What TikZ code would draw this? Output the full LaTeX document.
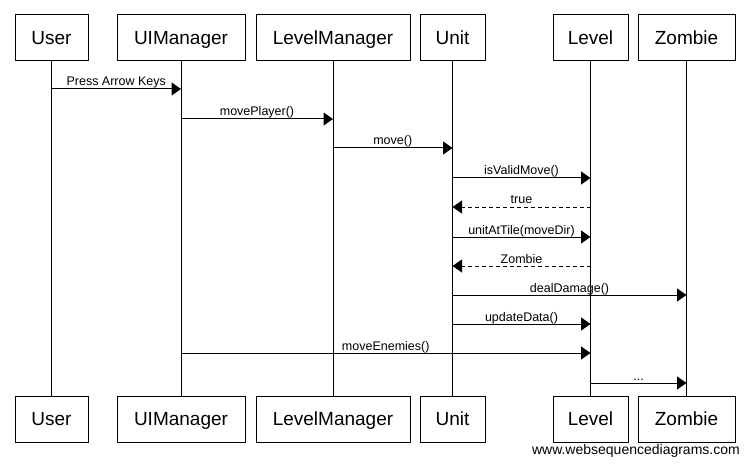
\documentclass[tikz,border=0pt]{standalone}
\usepackage{fontspec}
\setmainfont{Liberation Sans}
\usetikzlibrary{arrows.meta}
\begin{document}
\begin{tikzpicture}[x=1pt,y=-1pt,
  actor/.style={draw=black,line width=1pt,minimum height=46pt,inner sep=0pt,
    font=\fontsize{19}{19}\selectfont,text height=13.6pt,text depth=0pt},
  life/.style={line width=1pt},
  msg/.style={line width=1pt,-{Triangle[length=9.5pt,width=13pt]}},
  ret/.style={msg,dash pattern=on 4pt off 3pt},
  lbl/.style={font=\fontsize{12.5}{12.5}\selectfont,anchor=base,inner sep=0pt,yshift=3pt}]
\useasboundingbox (0,0) rectangle (749,465);
% top boxes
\node[actor,minimum width=73pt]  (userT)  at (51.5,38) {User};
\node[actor,minimum width=128pt] (uiT)    at (181,38) {UIManager};
\node[actor,minimum width=154pt] (lmT)    at (333,38) {LevelManager};
\node[actor,minimum width=65pt]  (unitT)  at (452.5,38) {Unit};
\node[actor,minimum width=75pt]  (levelT) at (590.5,38) {Level};
\node[actor,minimum width=97pt]  (zombT)  at (686.5,38) {Zombie};
% bottom boxes
\node[actor,minimum width=73pt]  (userB)  at (51.5,419) {User};
\node[actor,minimum width=128pt] (uiB)    at (181,419) {UIManager};
\node[actor,minimum width=154pt] (lmB)    at (333,419) {LevelManager};
\node[actor,minimum width=65pt]  (unitB)  at (452.5,419) {Unit};
\node[actor,minimum width=75pt]  (levelB) at (590.5,419) {Level};
\node[actor,minimum width=97pt]  (zombB)  at (686.5,419) {Zombie};
% lifelines
\draw[life] (userT.south)  -- (userB.north);
\draw[life] (uiT.south)    -- (uiB.north);
\draw[life] (lmT.south)    -- (lmB.north);
\draw[life] (unitT.south)  -- (unitB.north);
\draw[life] (levelT.south) -- (levelB.north);
\draw[life] (zombT.south)  -- (zombB.north);
% message endpoints
\coordinate (m1a) at (51.5,89);  \coordinate (m1b) at (181,89);
\coordinate (m2a) at (181,119);  \coordinate (m2b) at (333,119);
\coordinate (m3a) at (333,148);  \coordinate (m3b) at (452.5,148);
\coordinate (m4a) at (452.5,178); \coordinate (m4b) at (590.5,178);
\coordinate (m5a) at (590.5,207); \coordinate (m5b) at (452.5,207);
\coordinate (m6a) at (452.5,237); \coordinate (m6b) at (590.5,237);
\coordinate (m7a) at (590.5,266); \coordinate (m7b) at (452.5,266);
\coordinate (m8a) at (452.5,295); \coordinate (m8b) at (686.5,295);
\coordinate (m9a) at (452.5,324); \coordinate (m9b) at (590.5,324);
\coordinate (m10a) at (181,353); \coordinate (m10b) at (590.5,353);
\coordinate (m11a) at (590.5,383); \coordinate (m11b) at (686.5,383);
% messages
\draw[msg] (m1a) -- (m1b) node[lbl,midway] {Press Arrow Keys};
\draw[msg] (m2a) -- (m2b) node[lbl,midway] {movePlayer()};
\draw[msg] (m3a) -- (m3b) node[lbl,midway] {move()};
\draw[msg] (m4a) -- (m4b) node[lbl,midway] {isValidMove()};
\draw[ret] (m5a) -- (m5b) node[lbl,midway] {true};
\draw[msg] (m6a) -- (m6b) node[lbl,midway] {unitAtTile(moveDir)};
\draw[ret] (m7a) -- (m7b) node[lbl,midway] {Zombie};
\draw[msg] (m8a) -- (m8b) node[lbl,midway] {dealDamage()};
\draw[msg] (m9a) -- (m9b) node[lbl,midway] {updateData()};
\draw[msg] (m10a) -- (m10b) node[lbl,midway] {moveEnemies()};
\draw[msg] (m11a) -- (m11b) node[lbl,midway] {...};
% watermark
\node[font=\fontsize{14}{14}\selectfont,anchor=base east,inner sep=0pt] (wm) at (740,454) {www.websequencediagrams.com};
\end{tikzpicture}
\end{document}
